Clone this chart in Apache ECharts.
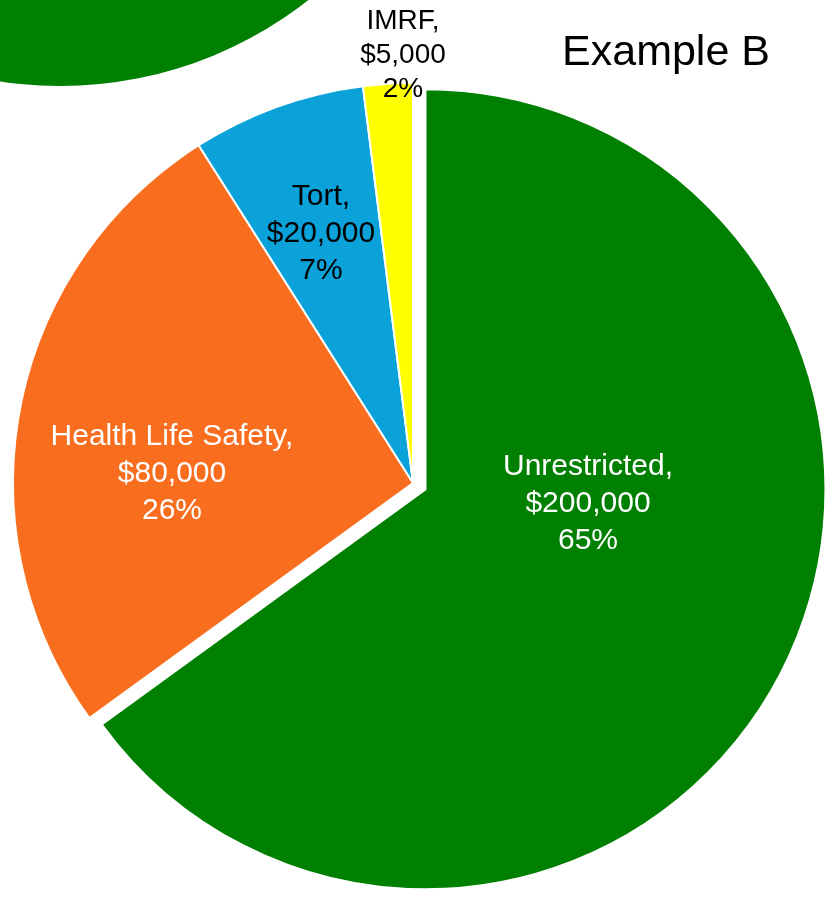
<!DOCTYPE html>
<html>
<head>
<meta charset="utf-8">
<script src="https://cdn.jsdelivr.net/npm/echarts@6/dist/echarts.min.js"></script>
<style>
html,body{margin:0;padding:0;background:#fff;}
#chart{width:836px;height:903px;}
</style>
</head>
<body>
<div id="chart"></div>
<script>
// ---- data ----
const categories = ['Unrestricted', 'Health Life Safety', 'Tort', 'IMRF'];
const amounts = [200000, 80000, 20000, 5000];   // dollar amounts shown in the labels
const shares = [65, 26, 7, 2];                  // percentage shares (slice sizes)
const titleText = 'Example B';
// neighbouring chart (Example A): only the lower edge of its pie is visible
const neighbourValues = [1];

// ---- styles ----
const colors = ['#008000', '#F96D1E', '#0BA1D9', '#FFFF00'];
const labelColors = ['#ffffff', '#ffffff', '#000000', '#000000'];
const labelSizes = [30, 30, 30, 28];
const labelLineHeights = [37, 37, 37, 34];
const labelPos = [[588, 504], [172, 474], [321, 234], [403, 55]];
const pieCenter = [413, 483];
const pieRadius = 400;
const explodeOffset = 14;

function money(v) {
  return '$' + v.toString().replace(/\B(?=(\d{3})+(?!\d))/g, ',');
}

const total = shares.reduce((a, b) => a + b, 0);
const midAngle = shares[0] / total * Math.PI;           // clockwise from 12 o'clock
const explodedCenter = [
  pieCenter[0] + explodeOffset * Math.sin(midAngle),
  pieCenter[1] - explodeOffset * Math.cos(midAngle)
];

const font = '"Liberation Sans", Arial, sans-serif';
const hidden = {color: 'rgba(0,0,0,0)', borderWidth: 0};

function labelFor(i) {
  return {
    show: true,
    position: 'inside',
    fontFamily: font,
    color: labelColors[i],
    fontSize: labelSizes[i],
    lineHeight: labelLineHeights[i],
    formatter: categories[i] + ',\n' + money(amounts[i]) + '\n' + shares[i] + '%'
  };
}

function placeAt(i) {
  return {x: labelPos[i][0], y: labelPos[i][1], align: 'center', verticalAlign: 'middle'};
}

const chart = echarts.init(document.getElementById('chart'), null, {renderer: 'canvas'});

chart.setOption({
  animation: false,
  backgroundColor: '#ffffff',
  title: {
    text: titleText,
    left: 666,
    top: 32,
    padding: 0,
    textAlign: 'center',
    textStyle: {fontFamily: font, fontSize: 43, fontWeight: 'normal', color: '#000'}
  },
  series: [
    {
      type: 'pie',
      silent: true,
      center: [60, -316],
      radius: 402,
      startAngle: 90,
      label: {show: false},
      labelLine: {show: false},
      itemStyle: {color: '#008000'},
      data: neighbourValues.map(v => ({value: v}))
    },
    {
      // the slices that stay in place
      type: 'pie',
      silent: true,
      center: pieCenter,
      radius: pieRadius,
      startAngle: 90,
      clockwise: true,
      itemStyle: {borderColor: '#ffffff', borderWidth: 2},
      labelLine: {show: false},
      labelLayout: p => placeAt(p.dataIndex),
      data: categories.map((c, i) => i === 0
        ? {name: '', value: shares[i], itemStyle: hidden, label: {show: false}}
        : {name: c, value: shares[i], itemStyle: {color: colors[i]}, label: labelFor(i)})
    },
    {
      // the exploded slice
      type: 'pie',
      silent: true,
      center: explodedCenter,
      radius: pieRadius,
      startAngle: 90,
      clockwise: true,
      itemStyle: {borderColor: '#ffffff', borderWidth: 2},
      labelLine: {show: false},
      labelLayout: () => placeAt(0),
      data: [
        {name: categories[0], value: shares[0], itemStyle: {color: colors[0]}, label: labelFor(0)},
        {name: '', value: total - shares[0], itemStyle: hidden, label: {show: false}}
      ]
    }
  ]
});
</script>
</body>
</html>
